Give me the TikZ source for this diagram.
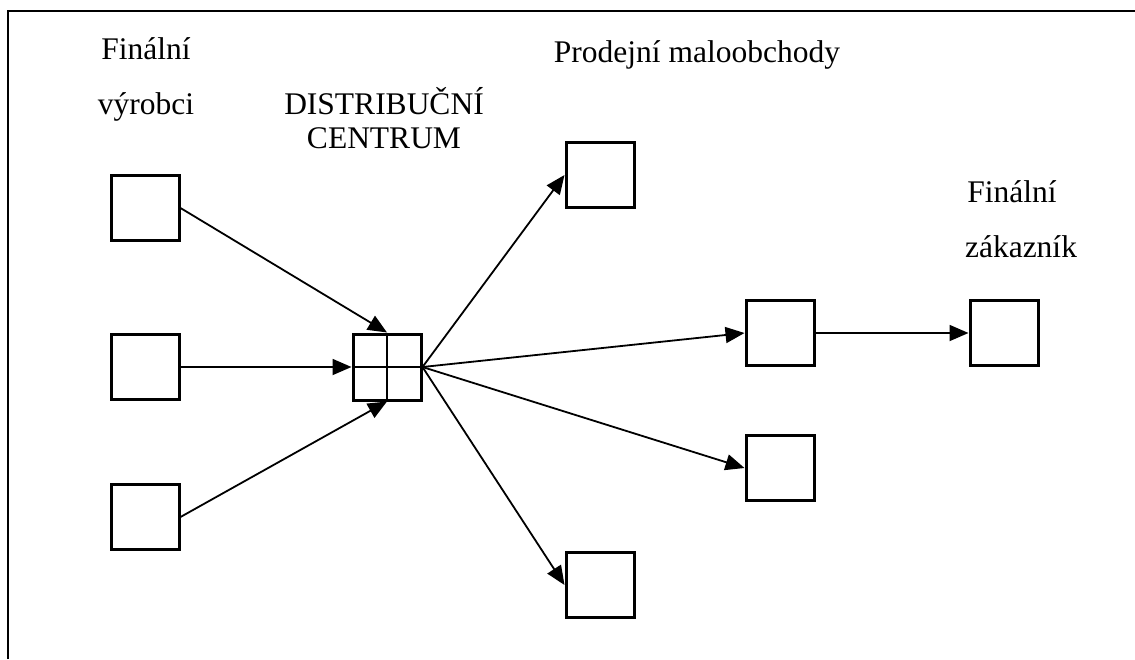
\documentclass[tikz,border=0pt]{standalone}
\usepackage{fontspec}
\setmainfont{Liberation Serif}
\usetikzlibrary{arrows.meta}
\begin{document}
\begin{tikzpicture}[x=1pt,y=-1pt,
  unit/.style={draw,line width=3pt,minimum width=68pt,minimum height=65pt,inner sep=0pt},
  flow/.style={line width=1.8pt,-{Triangle[length=19pt,width=16pt]}},
  lbl/.style={anchor=base,inner sep=0pt,font=\fontsize{31.5}{38}\selectfont}]
\useasboundingbox (0,0) rectangle (1135,659);
% open frame: top and left edges only
\draw[line width=2.2pt] (8,659) -- (8,11) -- (1135,11);

% suppliers
\node[unit] (p1) at (145,208) {};
\node[unit] (p2) at (145,367) {};
\node[unit] (p3) at (145,517) {};
% distribution centre (four compartments)
\node[unit,minimum width=68pt,minimum height=66pt] (dc) at (387,367) {};
\draw[line width=2.2pt] (dc.north) -- (dc.south) (dc.west) -- (dc.east);
% retail shops
\node[unit] (s1) at (600,175) {};
\node[unit] (s2) at (780,333) {};
\node[unit] (s3) at (780,468) {};
\node[unit] (s4) at (600,585) {};
% end customer
\node[unit] (cu) at (1004,333) {};

% flows
\draw[flow] (p1.east) -- (dc.north);
\draw[flow] (p2.east) -- (dc.west);
\draw[flow] (p3.east) -- (dc.south);
\draw[flow] (dc.east) -- (s1.west);
\draw[flow] (dc.east) -- (s2.west);
\draw[flow] (dc.east) -- (s3.west);
\draw[flow] (dc.east) -- (s4.west);
\draw[flow] (s2.east) -- (cu.west);

% labels
\node[lbl] (t1a) at (146,59) {Finální};
\node[lbl] (t1b) at (146,114) {výrobci};
\node[lbl] (t2a) at (384,114) {DISTRIBUČNÍ};
\node[lbl] (t2b) at (384,148) {CENTRUM};
\node[lbl] (t3) at (697,62) {Prodejní maloobchody};
\node[lbl] (t4a) at (1012,202) {Finální};
\node[lbl] (t4b) at (1021,257) {zákazník};
\end{tikzpicture}
\end{document}
